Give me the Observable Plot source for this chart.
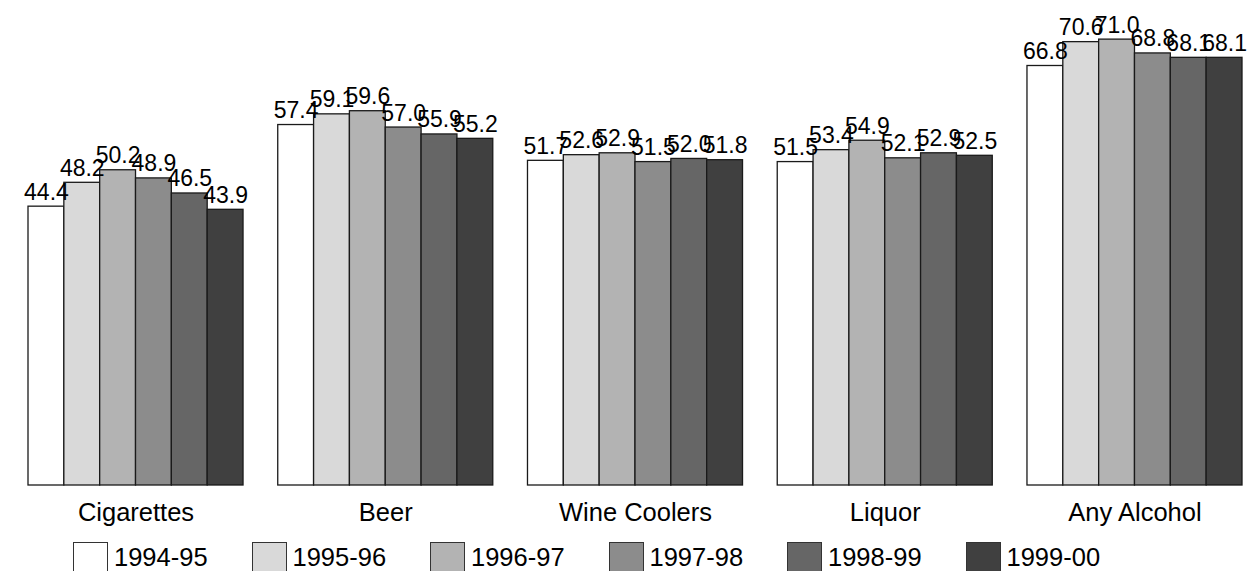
<!DOCTYPE html>
<html>
<head>
<meta charset="utf-8">
<script src="https://cdn.jsdelivr.net/npm/d3@7"></script>
<script src="https://cdn.jsdelivr.net/npm/@observablehq/plot@0.6"></script>
<style>
  html, body { margin: 0; padding: 0; background: #fff; }
  body { font-family: "Liberation Sans", Arial, sans-serif; width: 1249px; height: 571px; overflow: hidden; }
  #legend { display: flex; margin-left: 73px; margin-top: 7px; }
  .item { display: flex; align-items: center; width: 178.5px; flex: none; }
  .sw { width: 33px; height: 28px; border: 1px solid #333; box-sizing: content-box; flex: none; }
  .lab { font-size: 25.5px; margin-left: 6px; color: #000; line-height: 30px; }
</style>
</head>
<body>
<div id="chart"></div>
<div id="legend"></div>
<script>
const categories = ["Cigarettes", "Beer", "Wine Coolers", "Liquor", "Any Alcohol"];
const years = ["1994-95", "1995-96", "1996-97", "1997-98", "1998-99", "1999-00"];
const cigarettes = [44.4, 48.2, 50.2, 48.9, 46.5, 43.9];
const beer = [57.4, 59.1, 59.6, 57.0, 55.9, 55.2];
const wineCoolers = [51.7, 52.6, 52.9, 51.5, 52.0, 51.8];
const liquor = [51.5, 53.4, 54.9, 52.1, 52.9, 52.5];
const anyAlcohol = [66.8, 70.6, 71.0, 68.8, 68.1, 68.1];
const colors = ["#ffffff", "#d9d9d9", "#b3b3b3", "#8c8c8c", "#666666", "#404040"];

const series = [cigarettes, beer, wineCoolers, liquor, anyAlcohol];
const data = [];
categories.forEach((c, i) => {
  years.forEach((y, j) => data.push({category: c, year: y, value: series[i][j]}));
});

const chart = Plot.plot({
  width: 1249,
  height: 535,
  marginLeft: 28,
  marginRight: 7,
  marginTop: 14,
  marginBottom: 50,
  style: {fontFamily: "'Liberation Sans', Arial, sans-serif", background: "#fff", color: "#000"},
  fx: {domain: categories, paddingInner: 0.139, paddingOuter: 0, round: false, label: null},
  x: {domain: years, padding: 0, round: false, axis: null},
  y: {domain: [0, 75], axis: null},
  color: {domain: years, range: colors},
  marks: [
    Plot.barY(data, {fx: "category", x: "year", y: "value", fill: "year", stroke: "#1a1a1a", strokeWidth: 1.3}),
    Plot.text(data, {fx: "category", x: "year", y: "value", text: d => d.value.toFixed(1), lineAnchor: "bottom", dy: -7, fontSize: 23, fill: "#000"}),
    Plot.axisFx({anchor: "bottom", tickSize: 0, tickPadding: 17, fontSize: 25.5, label: null})
  ]
});
document.getElementById("chart").appendChild(chart);

const legend = document.getElementById("legend");
years.forEach((y, i) => {
  const item = document.createElement("div");
  item.className = "item";
  const sw = document.createElement("div");
  sw.className = "sw";
  sw.style.background = colors[i];
  const lab = document.createElement("span");
  lab.className = "lab";
  lab.textContent = y;
  item.appendChild(sw);
  item.appendChild(lab);
  legend.appendChild(item);
});
</script>
</body>
</html>
